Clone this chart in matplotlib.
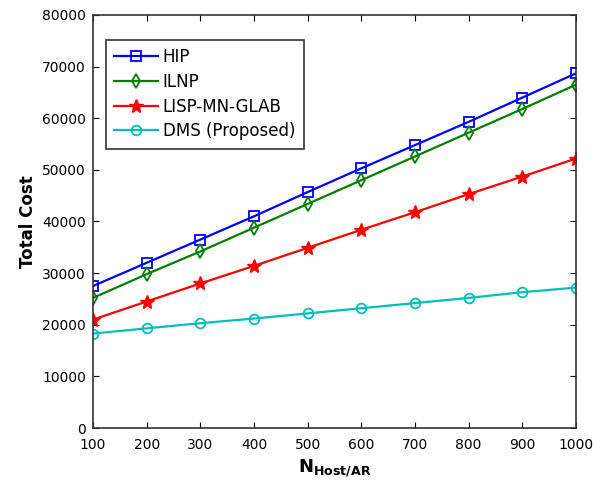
import matplotlib.pyplot as plt

n_host = [100, 200, 300, 400, 500, 600, 700, 800, 900, 1000]
hip = [27500, 32000, 36500, 41000, 45700, 50300, 54800, 59300, 64000, 68700]
ilnp = [25200, 29800, 34200, 38800, 43400, 48000, 52600, 57200, 61800, 66500]
lisp = [21000, 24500, 28000, 31400, 34900, 38400, 41800, 45300, 48700, 52200]
dms = [18300, 19300, 20300, 21200, 22200, 23200, 24200, 25200, 26300, 27200]

plt.rcParams['font.family'] = 'DejaVu Sans'
fig = plt.figure(figsize=(5.93, 4.92), dpi=100)
ax = fig.add_axes([93 / 593, 1 - 428 / 492, (576 - 93) / 593, (428 - 15) / 492])

ax.plot(n_host, hip, color='#0000ff', marker='s', mfc='none', ms=7, mew=1.3, lw=1.6, label='HIP')
ax.plot(n_host, ilnp, color='#008000', marker='d', mfc='none', ms=7, mew=1.3, lw=1.6, label='ILNP')
ax.plot(n_host, lisp, color='#ff0000', marker='*', ms=10, lw=1.6, label='LISP-MN-GLAB')
ax.plot(n_host, dms, color='#00bfbf', marker='o', mfc='none', ms=7, mew=1.3, lw=1.6, label='DMS (Proposed)')

ax.set_xlim(100, 1000)
ax.set_ylim(0, 80000)
ax.set_xticks(n_host)
ax.set_yticks(range(0, 80001, 10000))
ax.tick_params(direction='in', top=True, right=True, labelsize=10, length=4)
ax.tick_params(axis='x', pad=7)
ax.tick_params(axis='y', pad=5)
for s in ax.spines.values():
    s.set_color('#333333')
    s.set_linewidth(1.2)

ax.set_ylabel('Total Cost', fontsize=12, fontweight='bold')
ax.set_xlabel(r'$\mathbf{N_{Host/AR}}$', fontsize=13)

leg = ax.legend(loc='upper left', bbox_to_anchor=(0.01, 0.96), fontsize=12,
                fancybox=False, edgecolor='#333333', framealpha=1,
                handlelength=2.6, borderpad=0.5, labelspacing=0.4, handletextpad=0.3)
leg.get_frame().set_linewidth(1.2)

fig.savefig('out.png', dpi=100)
